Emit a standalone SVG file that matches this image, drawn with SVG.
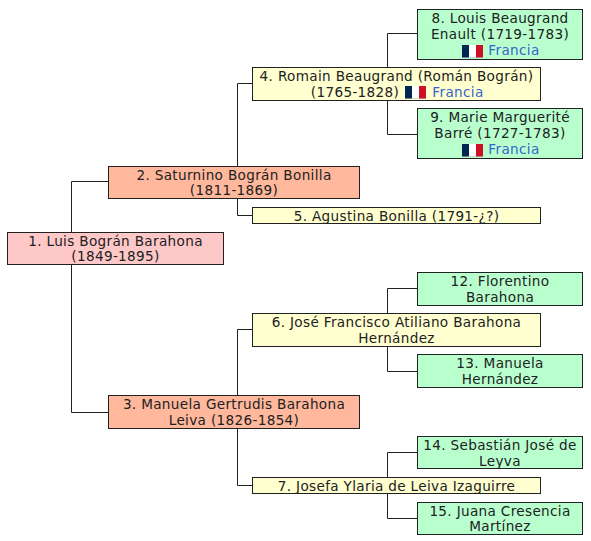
<svg xmlns="http://www.w3.org/2000/svg" width="591" height="541" viewBox="0 0 591 541">
<style>
rect.n{stroke:#202122;stroke-width:1}
.p{fill:#ffc8c8}.o{fill:#ffb89c}.y{fill:#ffffd0}.g{fill:#b9ffce}
text{font-family:"DejaVu Sans",sans-serif;font-size:13.6px;letter-spacing:.33px;fill:#202122;text-anchor:middle}
.l{fill:#3366cc}
#connectors path{fill:none;stroke:#202122;stroke-width:1}
</style>
<defs>
<g id="fr"><rect width="7" height="13" fill="#002654"/><rect x="7" width="7" height="13" fill="#fff"/><rect x="14" width="7" height="13" fill="#ce1126"/><rect y="12" width="21" height="1" fill="#bbb" opacity=".6"/></g>
</defs>
<g id="connectors">
<path d="M108 181.500H71.500V232M71.500 264V412.500H108"/>
<path d="M252 83.500H237.500V166M237.500 198V215.500H252"/>
<path d="M252 329.500H237.500V395M237.500 429V485.500H252"/>
<path d="M417 33.500H387.500V67M387.500 100V134.500H417"/>
<path d="M417 288.500H387.500V313M387.500 346V371.500H417"/>
<path d="M417 452.500H387.500V477M387.500 493V518.500H417"/>
</g>
<g id="n1"><rect class="n p" x="7.500" y="232.500" width="216" height="32"/><text x="115.500" y="245.500">1. Luis Bográn Barahona</text><text x="115.500" y="260.500">(1849-1895)</text></g>
<g id="n2"><rect class="n o" x="108.500" y="166.500" width="251" height="32"/><text x="234" y="179.500">2. Saturnino Bográn Bonilla</text><text x="234" y="194.500">(1811-1869)</text></g>
<g id="n3"><rect class="n o" x="108.500" y="395.500" width="251" height="33"/><text x="234" y="409">3. Manuela Gertrudis Barahona</text><text x="234" y="425">Leiva (1826-1854)</text></g>
<g id="n4"><rect class="n y" x="252.500" y="67.500" width="288" height="33"/><text x="396.500" y="81">4. Romain Beaugrand (Román Bográn)</text><text x="355" y="97">(1765-1828)</text><use href="#fr" x="405" y="86"/><text class="l" x="458" y="97">Francia</text></g>
<g id="n5"><rect class="n y" x="252.500" y="207.500" width="288" height="16"/><text x="396.500" y="220.500">5. Agustina Bonilla (1791-¿?)</text></g>
<g id="n6"><rect class="n y" x="252.500" y="313.500" width="288" height="33"/><text x="396.500" y="327">6. José Francisco Atiliano Barahona</text><text x="396.500" y="343">Hernández</text></g>
<g id="n7"><rect class="n y" x="252.500" y="477.500" width="288" height="16"/><text x="396.500" y="490.500">7. Josefa Ylaria de Leiva Izaguirre</text></g>
<g id="n8"><rect class="n g" x="417.500" y="9.500" width="165" height="50"/><text x="500" y="23">8. Louis Beaugrand</text><text x="500" y="39">Enault (1719-1783)</text><use href="#fr" x="462" y="45"/><text class="l" x="514" y="55">Francia</text></g>
<g id="n9"><rect class="n g" x="417.500" y="108.500" width="165" height="50"/><text x="500" y="122">9. Marie Marguerité</text><text x="500" y="138">Barré (1727-1783)</text><use href="#fr" x="462" y="144"/><text class="l" x="514" y="154">Francia</text></g>
<g id="n12"><rect class="n g" x="417.500" y="272.500" width="165" height="33"/><text x="500" y="286">12. Florentino</text><text x="500" y="302">Barahona</text></g>
<g id="n13"><rect class="n g" x="417.500" y="354.500" width="165" height="33"/><text x="500" y="368">13. Manuela</text><text x="500" y="384">Hernández</text></g>
<g id="n14"><rect class="n g" x="417.500" y="436.500" width="165" height="32"/><text x="500" y="450">14. Sebastián José de</text><text x="500" y="466">Leyva</text></g>
<g id="n15"><rect class="n g" x="417.500" y="502.500" width="165" height="32"/><text x="500" y="516">15. Juana Cresencia</text><text x="500" y="531">Martínez</text></g>
</svg>
